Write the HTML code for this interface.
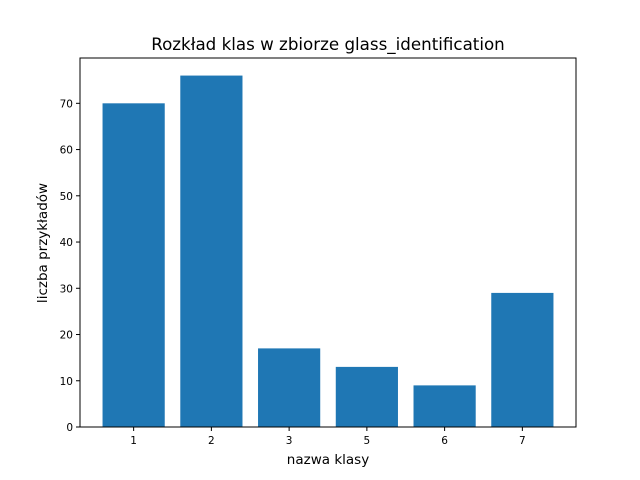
<!DOCTYPE html>
<html><head><meta charset="utf-8"><style>
body{margin:0;background:#fff;}
svg{display:block;font-family:"DejaVu Sans","Liberation Sans",sans-serif;}
</style></head><body>
<svg id="chart" width="640" height="480">
<rect width="640" height="480" fill="#fff"/>
<text x="328" y="50" font-size="16.7" text-anchor="middle">Rozkład klas w zbiorze glass_identification</text>
<text x="328" y="464" font-size="13.5" text-anchor="middle">nazwa klasy</text>
<text transform="translate(47,243) rotate(-90)" font-size="13.5" text-anchor="middle">liczba przykładów</text>
<g id="bars"></g>
<g id="axes"></g>
<rect x="80" y="58" width="496" height="369" fill="none" stroke="#000" stroke-width="1"/>
</svg>
<script>
const categories = ["1","2","3","5","6","7"];
const counts = [70, 76, 17, 13, 9, 29];
const yTicks = [0,10,20,30,40,50,60,70];
const L=80,R=576,T=58,B=427;
const yMax = Math.max(...counts)*1.05;
const xMin=-0.4-0.05*(categories.length-1+0.8), xMax=categories.length-1+0.4+0.05*(categories.length-1+0.8);
const sx=v=>L+(v-xMin)/(xMax-xMin)*(R-L);
const sy=v=>B-v/yMax*(B-T);
const ns="http://www.w3.org/2000/svg";
const bars=document.getElementById('bars'), axes=document.getElementById('axes');
function mk(tag,attrs,parent){const e=document.createElementNS(ns,tag);for(const k in attrs)e.setAttribute(k,attrs[k]);parent.appendChild(e);return e;}
categories.forEach((c,i)=>{
  const r=mk('rect',{x:sx(i-0.4),y:sy(counts[i]),width:sx(i+0.4)-sx(i-0.4),height:B-sy(counts[i]),fill:'#1f77b4'},bars);
  
  
  const t=mk('line',{x1:sx(i),x2:sx(i),y1:B,y2:B+4,stroke:'#000'},axes);
  
  
  const l=mk('text',{x:sx(i),y:B+17,'font-size':'10.5','text-anchor':'middle'},axes);
  l.textContent=c;
  
  
});
yTicks.forEach(v=>{
  const t=mk('line',{x1:L-4,x2:L,y1:sy(v),y2:sy(v),stroke:'#000'},axes);
  
  
  const l=mk('text',{x:L-7,y:sy(v)+4,'font-size':'10.5','text-anchor':'end'},axes);
  l.textContent=v;
  
  
});
</script>
</body></html>
